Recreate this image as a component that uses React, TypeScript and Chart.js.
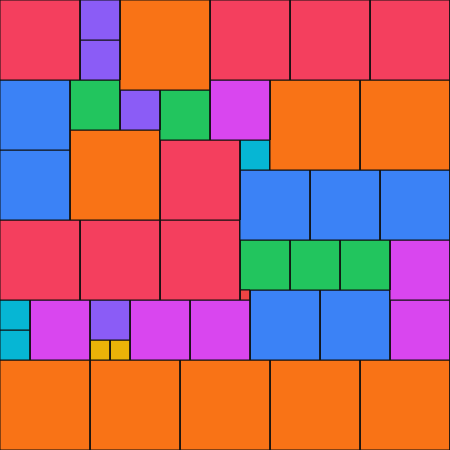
import React, { useEffect, useRef } from "react";
import { Chart, registerables } from "chart.js";

Chart.register(...registerables);

// Rectangles of the packed-squares chart (data units, grid 0..450)
const rectX = [0, 80, 80, 120, 210, 290, 370, 0, 0, 70, 120, 160, 210, 270, 360, 70, 160, 240, 240, 310, 380, 0, 80, 160, 240, 240, 290, 340, 390, 0, 0, 30, 90, 90, 110, 130, 190, 250, 320, 390, 0, 90, 180, 270, 360];
const rectY = [0, 0, 40, 0, 0, 0, 0, 80, 150, 80, 90, 90, 80, 80, 80, 130, 140, 140, 170, 170, 170, 220, 220, 220, 290, 240, 240, 240, 240, 300, 330, 300, 300, 340, 340, 300, 300, 290, 290, 300, 360, 360, 360, 360, 360];
const rectW = [80, 40, 40, 90, 80, 80, 80, 70, 70, 50, 40, 50, 60, 90, 90, 90, 80, 30, 70, 70, 70, 80, 80, 80, 10, 50, 50, 50, 60, 30, 30, 60, 40, 20, 20, 60, 60, 70, 70, 60, 90, 90, 90, 90, 90];
const rectH = [80, 40, 40, 90, 80, 80, 80, 70, 70, 50, 40, 50, 60, 90, 90, 90, 80, 30, 70, 70, 70, 80, 80, 80, 10, 50, 50, 50, 60, 30, 30, 60, 40, 20, 20, 60, 60, 70, 70, 60, 90, 90, 90, 90, 90];
const rectColor = [
  "#f43f5e", "#8b5cf6", "#8b5cf6", "#f97316", "#f43f5e", "#f43f5e", "#f43f5e",
  "#3b82f6", "#3b82f6", "#22c55e", "#8b5cf6", "#22c55e", "#d946ef", "#f97316", "#f97316",
  "#f97316", "#f43f5e", "#06b6d4", "#3b82f6", "#3b82f6", "#3b82f6",
  "#f43f5e", "#f43f5e", "#f43f5e", "#ef4444", "#22c55e", "#22c55e", "#22c55e", "#d946ef",
  "#06b6d4", "#06b6d4", "#d946ef", "#8b5cf6", "#eab308", "#eab308", "#d946ef", "#d946ef",
  "#3b82f6", "#3b82f6", "#d946ef",
  "#f97316", "#f97316", "#f97316", "#f97316", "#f97316",
];

export default function App() {
  const ref = useRef<HTMLCanvasElement | null>(null);
  useEffect(() => {
    if (!ref.current) return;
    const datasets = rectX.map((x, i) => {
      const y = rectY[i];
      const w = rectW[i];
      const h = rectH[i];
      return {
        data: [
          { x, y },
          { x: x + w, y },
          { x: x + w, y: y + h },
          { x, y: y + h },
          { x, y },
        ],
        showLine: true,
        fill: "shape",
        backgroundColor: rectColor[i],
        borderColor: "#111111",
        borderWidth: 1,
        pointRadius: 0,
        pointHoverRadius: 0,
        tension: 0,
        clip: false,
      };
    });
    const chart = new Chart(ref.current, {
      type: "scatter",
      data: { datasets: datasets as any },
      options: {
        animation: false,
        responsive: false,
        maintainAspectRatio: false,
        layout: { padding: 0 },
        plugins: { legend: { display: false }, tooltip: { enabled: false } },
        events: [],
        scales: {
          x: { type: "linear", min: 0, max: 450, display: false },
          y: { type: "linear", min: 0, max: 450, reverse: true, display: false },
        },
      },
    });
    return () => chart.destroy();
  }, []);
  return (
    <div style={{ position: "fixed", left: 0, top: 0, width: 450, height: 450, background: "#fff" }}>
      <canvas ref={ref} width={450} height={450} style={{ display: "block", width: 450, height: 450 }} />
    </div>
  );
}
